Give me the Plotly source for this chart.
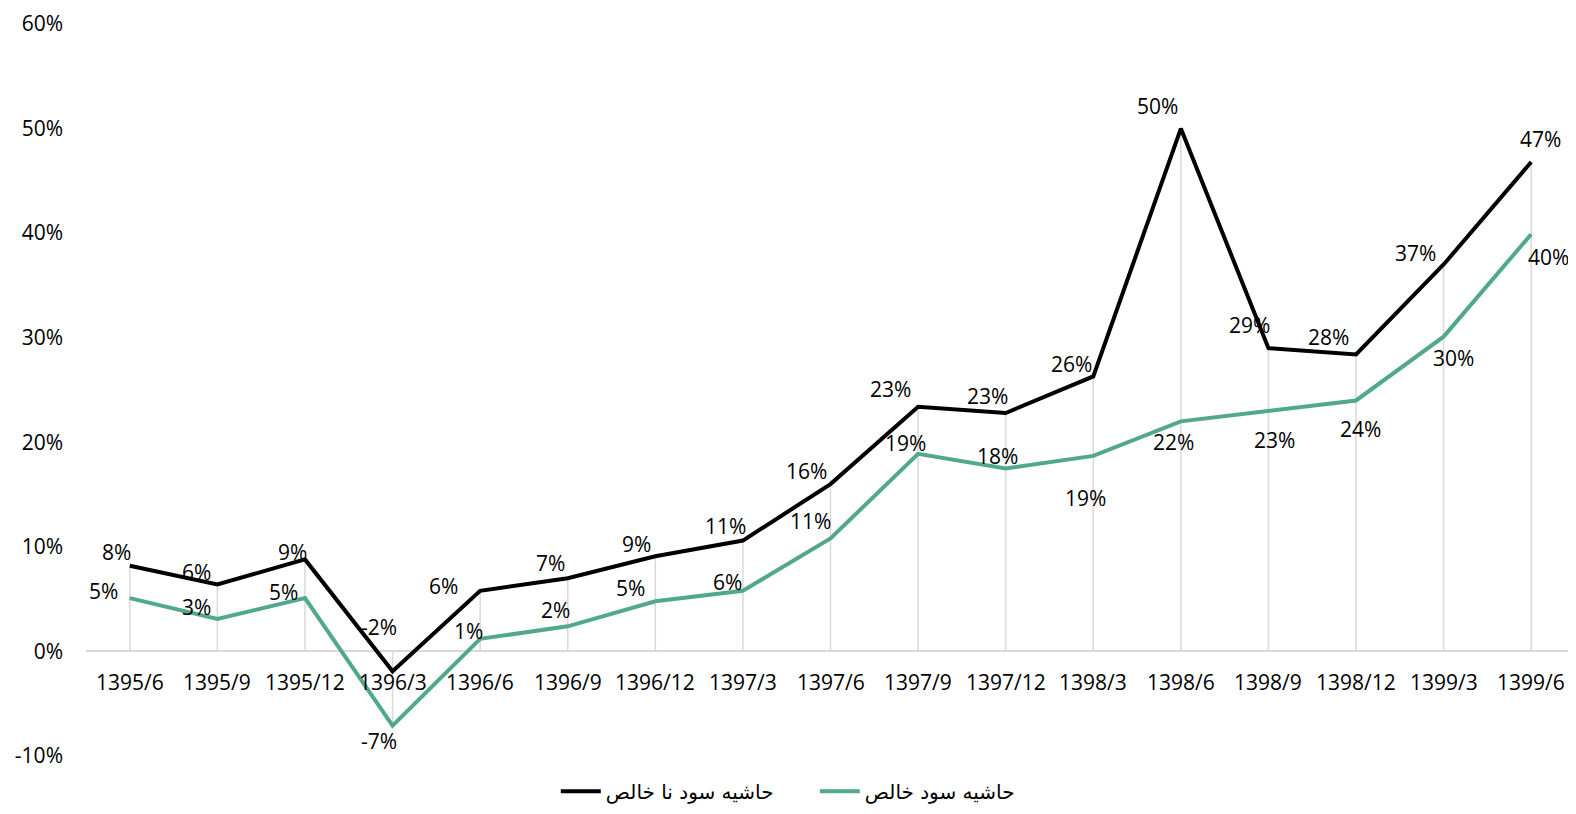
import plotly.graph_objects as go

periods = ["1395/6", "1395/9", "1395/12", "1396/3", "1396/6", "1396/9", "1396/12",
           "1397/3", "1397/6", "1397/9", "1397/12", "1398/3", "1398/6", "1398/9",
           "1398/12", "1399/3", "1399/6"]
gross_margin = [8.2, 6.4, 8.8, -1.9, 5.8, 7.0, 9.1, 10.6, 16.0, 23.4, 22.8, 26.3,
                50.0, 29.0, 28.4, 37.0, 46.8]
net_margin = [5.1, 3.1, 5.1, -7.1, 1.2, 2.4, 4.8, 5.8, 10.8, 18.9, 17.5, 18.7,
              22.0, 23.0, 24.0, 30.1, 39.9]
y_ticks = [-10, 0, 10, 20, 30, 40, 50, 60]
gross_name = "حاشیه سود نا خالص"
net_name = "حاشیه سود خالص"

# Excel-style label offsets (px) relative to each point
gross_off = [(-13, 14), (-21, 13), (-12, 7), (-14, 44), (-37, 5), (-17, 15), (-19, 12),
             (-17, 15), (-24, 13), (-28, 18), (-18, 17), (-22, 12), (-23, 23),
             (-19, 23), (-28, 17), (-28, 12), (9, 23)]
net_off = [(-26, 7), (-21, 12), (-21, 6), (-14, -15), (-12, 8), (-12, 16), (-25, 13),
           (-15, 9), (-20, 17), (-13, 11), (-8, 12), (-8, -42), (-7, -21), (6, -29),
           (4, -29), (10, -21), (17, -23)]

BLACK = "#000000"
GREEN = "#52A88B"
GRID = "#D9D9D9"
FONT = "Open Sans, DejaVu Sans, sans-serif"
SIZE = 21

gross = [v / 100 for v in gross_margin]
net = [v / 100 for v in net_margin]

fig = go.Figure()
fig.add_trace(go.Scatter(x=periods, y=gross, mode="lines", name=gross_name,
                         line=dict(color=BLACK, width=4)))
fig.add_trace(go.Scatter(x=periods, y=net, mode="lines", name=net_name,
                         line=dict(color=GREEN, width=4)))

# drop lines from the axis to the outermost point
for p, g, n in zip(periods, gross, net):
    fig.add_shape(type="line", xref="x", yref="y", x0=p, x1=p,
                  y0=min(0, g, n), y1=max(0, g, n),
                  line=dict(color=GRID, width=1.5), layer="below")

annotations = []
for series, offs in ((gross_margin, gross_off), (net_margin, net_off)):
    for p, v, (dx, dy) in zip(periods, series, offs):
        annotations.append(dict(x=p, y=v / 100, xref="x", yref="y",
                                text=f"{round(v):d}%", showarrow=False,
                                xshift=dx, yshift=dy,
                                font=dict(size=SIZE, color=BLACK, family=FONT)))
# category labels sit just under the zero line
for p in periods:
    annotations.append(dict(x=p, y=0, xref="x", yref="y", text=p, showarrow=False,
                            yshift=-31, font=dict(size=SIZE, color=BLACK, family=FONT)))

# page body adds an 8px margin, so the figure is 16px smaller than the window
fig.update_layout(
    width=1560,
    height=798,
    paper_bgcolor="white",
    plot_bgcolor="white",
    margin=dict(l=78, r=0, t=16, b=50, autoexpand=False),
    font=dict(family=FONT, size=SIZE, color=BLACK),
    showlegend=True,
    legend=dict(orientation="h", x=0.317, xanchor="left", y=-0.048, yanchor="middle",
                font=dict(family="DejaVu Sans, sans-serif", size=20, color=BLACK),
                itemwidth=40, traceorder="normal",
                entrywidth=204, entrywidthmode="pixels"),
    annotations=annotations,
)
fig.update_xaxes(type="category", range=[-0.5, 16.42],
                 showticklabels=False, showgrid=False, zeroline=False, showline=False)
fig.update_yaxes(range=[-0.1, 0.6], tickvals=[t / 100 for t in y_ticks],
                 ticktext=[f"{t}%" for t in y_ticks], showgrid=False,
                 zeroline=True, zerolinecolor=GRID, zerolinewidth=1.5,
                 showline=False, ticklabelstandoff=22,
                 tickfont=dict(size=SIZE, color=BLACK, family=FONT))

fig.write_html("out.html")
